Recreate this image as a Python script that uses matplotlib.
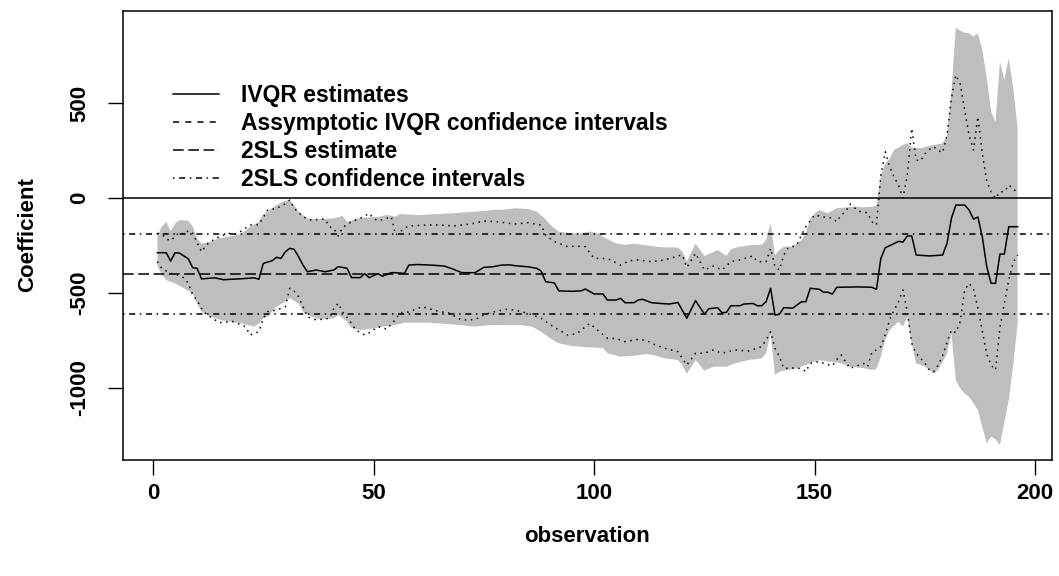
import matplotlib
matplotlib.use("Agg")
import matplotlib.pyplot as plt
from matplotlib.lines import Line2D

plt.rcParams['font.family'] = ['Liberation Sans', 'DejaVu Sans']
plt.rcParams['font.weight'] = 'bold'
plt.rcParams['axes.unicode_minus'] = False

# IVQR estimates
est_obs = [1, 3, 4, 5, 6, 8, 9, 10, 11, 14, 16, 20, 23, 24, 25, 27, 28, 29, 30, 31, 32, 33, 34, 35,
           37, 39, 41, 42, 44, 45, 47, 48, 49, 51, 52, 54, 55, 57, 58, 60, 63, 66, 68, 70, 73, 75,
           77, 79, 81, 82, 85, 87, 88, 89, 91, 92, 95, 97, 98, 100, 102, 103, 105, 106, 107, 109,
           110, 111, 113, 115, 117, 119, 121, 123, 125, 126, 128, 129, 130, 131, 133, 134, 136, 137,
           138, 139, 140, 141, 142, 143, 145, 147, 148, 149, 151, 152, 153, 154, 155, 160, 163, 164,
           165, 166, 168, 169, 170, 171, 172, 173, 176, 179, 180, 181, 182, 184, 185, 186, 187, 188,
           189, 190, 191, 192, 193, 194, 196]
est_val = [-288, -288, -332, -288, -290, -320, -367, -370, -426, -420, -430, -425, -420, -428, -344,
           -330, -312, -318, -283, -265, -270, -309, -353, -388, -379, -388, -379, -361, -370, -419,
           -419, -398, -419, -398, -412, -393, -393, -397, -353, -350, -353, -358, -374, -393, -393,
           -365, -362, -353, -352, -356, -362, -370, -385, -440, -447, -489, -491, -489, -479, -505,
           -505, -537, -537, -528, -551, -551, -537, -533, -551, -555, -558, -550, -633, -540, -611,
           -583, -577, -604, -602, -567, -567, -558, -555, -567, -567, -545, -475, -616, -612, -577,
           -580, -546, -546, -475, -480, -496, -496, -506, -470, -468, -470, -481, -318, -262, -240,
           -228, -232, -200, -200, -300, -305, -300, -239, -107, -37, -37, -63, -111, -100, -204,
           -361, -449, -449, -295, -295, -151, -151]

# asymptotic IVQR confidence interval, upper bound
up_obs = [1, 2, 3, 4, 6, 7, 8, 9, 11, 12, 13, 15, 17, 19, 22, 24, 26, 28, 29, 30, 31, 32, 34, 36,
          38, 39, 40, 41, 42, 43, 44, 45, 47, 49, 50, 51, 53, 54, 55, 57, 58, 62, 65, 68, 72, 75,
          78, 82, 85, 88, 89, 91, 94, 96, 98, 100, 103, 106, 108, 110, 113, 116, 119, 120, 121,
          123, 124, 125, 127, 129, 131, 133, 136, 137, 139, 140, 141, 142, 143, 144, 145, 146, 147,
          148, 150, 152, 154, 155, 156, 157, 158, 160, 162, 163, 164, 165, 166, 167, 168, 169, 170,
          171, 172, 173, 174, 175, 176, 177, 178, 179, 180, 181, 182, 183, 184, 185, 186, 187, 188,
          189, 190, 191, 192, 193, 194, 195, 196]
up_val = [-186, -190, -215, -225, -180, -190, -172, -186, -283, -250, -230, -204, -186, -190, -142,
          -140, -63, -55, -42, -30, -11, -54, -98, -118, -110, -112, -151, -160, -200, -155, -140,
          -125, -107, -81, -107, -120, -107, -98, -195, -160, -147, -142, -142, -147, -137, -121,
          -125, -137, -130, -142, -195, -230, -256, -253, -256, -318, -318, -353, -330, -326, -335,
          -326, -305, -300, -365, -291, -335, -379, -358, -379, -335, -326, -305, -335, -335, -265,
          -361, -379, -300, -261, -256, -245, -195, -151, -89, -100, -105, -125, -90, -72, -32, -70,
          -78, -125, -142, 120, 244, 165, 110, 68, 0, 120, 367, 200, 195, 232, 255, 270, 250, 239,
          330, 525, 647, 600, 463, 330, 253, 428, 235, 90, 30, -2, 33, 33, 68, 50, 25]

# asymptotic IVQR confidence interval, lower bound
lo_obs = [1, 2, 4, 5, 7, 8, 9, 10, 11, 12, 15, 18, 21, 22, 24, 25, 26, 28, 30, 31, 32, 33, 34, 35,
          37, 40, 41, 42, 43, 45, 46, 48, 49, 51, 53, 55, 56, 58, 61, 63, 65, 67, 70, 73, 75, 77,
          80, 82, 85, 88, 89, 91, 94, 96, 99, 100, 103, 105, 107, 110, 112, 113, 116, 119, 120, 121,
          123, 125, 127, 129, 132, 135, 138, 139, 140, 141, 142, 143, 145, 147, 148, 149, 151, 152,
          154, 155, 156, 158, 160, 161, 162, 163, 164, 165, 166, 167, 168, 169, 170, 171, 172, 173,
          175, 176, 177, 178, 179, 180, 181, 182, 183, 184, 185, 186, 187, 188, 189, 190, 191, 192,
          193, 194, 195, 196]
lo_val = [-335, -370, -397, -400, -420, -449, -510, -540, -581, -611, -656, -650, -677, -721, -704,
          -633, -598, -590, -572, -475, -490, -519, -572, -625, -642, -633, -581, -554, -600, -660,
          -695, -721, -710, -677, -690, -639, -604, -600, -572, -585, -598, -605, -642, -640, -616,
          -600, -586, -590, -607, -633, -650, -681, -721, -715, -660, -680, -738, -740, -756, -744,
          -750, -765, -791, -809, -844, -879, -817, -817, -800, -817, -800, -805, -782, -747, -704,
          -791, -835, -897, -895, -897, -914, -870, -860, -870, -884, -850, -826, -897, -880, -870,
          -888, -809, -800, -782, -720, -640, -590, -546, -484, -598, -765, -817, -870, -905, -914,
          -880, -830, -760, -695, -709, -650, -484, -449, -480, -580, -700, -820, -880, -905, -680,
          -554, -430, -340, -300]

# shaded band, upper edge
gu_obs = [1, 2, 3, 4, 5, 6, 8, 9, 10, 11, 13, 15, 18, 20, 22, 24, 25, 26, 28, 30, 31, 32, 33, 35,
          37, 39, 41, 43, 44, 46, 48, 51, 53, 55, 56, 60, 64, 68, 73, 77, 80, 82, 85, 87, 89, 90,
          92, 95, 97, 99, 101, 102, 105, 107, 109, 111, 114, 116, 119, 120, 121, 123, 125, 126, 128,
          130, 131, 133, 136, 138, 139, 140, 141, 142, 143, 145, 147, 148, 149, 150, 151, 153, 155,
          157, 159, 161, 163, 164, 165, 166, 167, 168, 170, 171, 172, 174, 176, 177, 179, 180, 181,
          182, 183, 184, 185, 186, 187, 188, 189, 190, 191, 192, 193, 194, 195, 196]
gu_val = [-200, -150, -125, -175, -135, -116, -120, -150, -212, -240, -230, -212, -200, -190, -151,
          -125, -89, -70, -37, -14, -11, -37, -72, -107, -112, -110, -107, -95, -125, -110, -102,
          -100, -89, -98, -84, -90, -85, -80, -72, -63, -60, -54, -58, -72, -112, -140, -177, -186,
          -186, -177, -186, -204, -239, -247, -240, -247, -256, -260, -260, -283, -335, -239, -305,
          -295, -274, -305, -270, -256, -247, -247, -221, -133, -300, -274, -256, -256, -221, -186,
          -107, -81, -63, -80, -54, -50, -45, -49, -46, -40, 121, 182, 209, 253, 279, 288, 265, 262,
          274, 279, 288, 332, 560, 898, 880, 870, 867, 849, 867, 780, 630, 455, 400, 717, 621, 735,
          580, 370]

# shaded band, lower edge
gl_obs = [1, 2, 3, 5, 7, 9, 10, 11, 13, 16, 20, 23, 24, 25, 26, 28, 30, 31, 33, 34, 36, 38, 41, 42,
          44, 45, 47, 50, 52, 55, 57, 62, 65, 70, 73, 76, 80, 83, 86, 88, 90, 92, 95, 99, 102, 103,
          106, 109, 112, 114, 116, 119, 120, 121, 123, 125, 127, 130, 132, 135, 138, 139, 140, 141,
          142, 144, 146, 149, 151, 153, 156, 158, 161, 163, 164, 165, 166, 167, 169, 170, 171, 172,
          173, 175, 177, 178, 180, 181, 182, 183, 184, 185, 186, 187, 188, 189, 190, 191, 192, 193,
          194, 195, 196]
gl_val = [-361, -400, -432, -449, -475, -502, -554, -598, -625, -646, -660, -677, -660, -633, -625,
          -572, -546, -528, -554, -598, -625, -640, -633, -616, -651, -686, -695, -686, -677, -668,
          -656, -656, -660, -670, -677, -670, -668, -668, -677, -704, -738, -765, -779, -786, -790,
          -817, -835, -830, -821, -830, -844, -853, -879, -926, -853, -909, -888, -888, -870, -853,
          -844, -817, -712, -932, -914, -905, -897, -870, -853, -860, -870, -888, -895, -905, -900,
          -835, -747, -695, -651, -677, -625, -765, -870, -888, -923, -905, -820, -712, -958, -1002,
          -1030, -1046, -1080, -1116, -1204, -1291, -1256, -1270, -1300, -1180, -1063, -880, -660]

# 2SLS estimate and its confidence interval
sls_est = -400
sls_lo = -612
sls_hi = -188

legend_labels = ["IVQR estimates", "Assymptotic IVQR confidence intervals",
                 "2SLS estimate", "2SLS confidence intervals"]

fs = 16
lw = 1.1
dotted = (0, (1, 3))
dashed = (0, (4, 4))
longdash = (0, (7, 3))
dotdash = (0, (1, 3, 4, 3))

fig = plt.figure(figsize=(10.59, 5.76), dpi=100)
ax = fig.add_axes([123 / 1059, 116 / 576, 929 / 1059, 449.3 / 576])

ax.fill(gu_obs + gl_obs[::-1], gu_val + gl_val[::-1], color="#BEBEBE", lw=0)
ax.plot(est_obs, est_val, color="black", lw=lw)
ax.plot(up_obs, up_val, color="black", lw=lw, ls=dotted)
ax.plot(lo_obs, lo_val, color="black", lw=lw, ls=dotted)
ax.axhline(0, color="black", lw=lw)
ax.axhline(sls_est, color="black", lw=lw, ls=longdash)
ax.axhline(sls_hi, color="black", lw=lw, ls=dotdash)
ax.axhline(sls_lo, color="black", lw=lw, ls=dotdash)

ax.set_xlim(-6.8, 203.8)
ax.set_ylim(-1379, 986)
ax.set_xticks([0, 50, 100, 150, 200])
ax.set_yticks([-1000, -500, 0, 500])
ax.tick_params(direction="out", length=10.8, width=1, labelsize=fs, color="black")
ax.tick_params(axis="x", pad=5.5)
ax.tick_params(axis="y", pad=13, labelrotation=90)
for lab in ax.get_yticklabels():
    lab.set_va("center")
for s in ax.spines.values():
    s.set_linewidth(lw)

fig.text(587 / 1059, 1 - 537 / 576, "observation", ha="center", va="center", fontsize=fs)
fig.text(28 / 1059, 1 - 235 / 576, "Coefficient", ha="center", va="center", fontsize=fs,
         rotation=90)

handles = [Line2D([], [], color="black", lw=lw),
           Line2D([], [], color="black", lw=lw, ls=dashed),
           Line2D([], [], color="black", lw=lw, ls=longdash),
           Line2D([], [], color="black", lw=lw, ls=dotdash)]
ax.legend(handles, legend_labels, loc="upper left", frameon=False, fontsize=16.5,
          bbox_to_anchor=(173 / 1059, 1 - 84 / 576), bbox_transform=fig.transFigure,
          handlelength=2.0, handletextpad=0.95, labelspacing=0.22, borderpad=0, borderaxespad=0)

fig.savefig("out.png", dpi=100)
